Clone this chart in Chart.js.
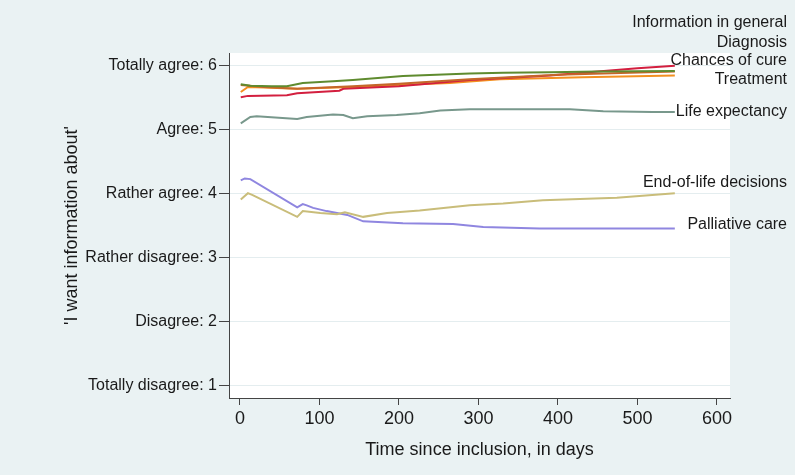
<!DOCTYPE html>
<html>
<head>
<meta charset="utf-8">
<script src="https://cdn.jsdelivr.net/npm/chart.js@4.4.1/dist/chart.umd.min.js"></script>
<style>
  html, body { margin: 0; padding: 0; background: #eaf2f3; }
  #wrap { width: 795px; height: 475px; }
</style>
</head>
<body>
<div id="wrap"><canvas id="infoChart" width="795" height="475"></canvas></div>
<script>
// series (days since inclusion -> mean score)
const seriesNames = ['Information in general', 'Diagnosis', 'Chances of cure', 'Treatment',
                     'Life expectancy', 'End-of-life decisions', 'Palliative care'];

const infoDays = [1, 13, 40, 59, 79, 117, 142, 205, 289, 331, 390, 450, 547];
const infoVals = [5.70, 5.68, 5.67, 5.67, 5.72, 5.75, 5.77, 5.83, 5.87, 5.88, 5.89, 5.90, 5.91];

const diagDays = [1, 30, 72, 142, 200, 264, 289, 400, 547];
const diagVals = [5.69, 5.66, 5.63, 5.67, 5.71, 5.76, 5.78, 5.85, 5.90];

const cureDays = [1, 10, 59, 72, 125, 130, 200, 264, 289, 390, 450, 500, 547];
const cureVals = [5.50, 5.52, 5.53, 5.56, 5.60, 5.63, 5.67, 5.74, 5.77, 5.84, 5.90, 5.95, 5.99];

const treatDays = [1, 10, 30, 72, 142, 200, 264, 327, 431, 547];
const treatVals = [5.58, 5.66, 5.65, 5.63, 5.66, 5.69, 5.72, 5.78, 5.81, 5.84];

const lifeDays = [1, 13, 21, 72, 84, 117, 130, 142, 160, 197, 226, 252, 289, 415, 457, 519, 547];
const lifeVals = [5.09, 5.19, 5.20, 5.16, 5.19, 5.23, 5.22, 5.17, 5.20, 5.22, 5.25, 5.29, 5.31, 5.31, 5.28, 5.27, 5.27];

const eolDays = [1, 10, 16, 72, 79, 101, 122, 132, 155, 185, 226, 289, 331, 381, 474, 547];
const eolVals = [3.90, 4.00, 3.97, 3.63, 3.72, 3.69, 3.67, 3.70, 3.63, 3.69, 3.73, 3.81, 3.84, 3.89, 3.93, 4.00];

const palDays = [1, 6, 13, 72, 79, 84, 92, 109, 135, 155, 205, 268, 306, 377, 547];
const palVals = [4.20, 4.23, 4.22, 3.78, 3.83, 3.81, 3.77, 3.72, 3.66, 3.56, 3.53, 3.52, 3.47, 3.45, 3.45];

const xTicks = [0, 100, 200, 300, 400, 500, 600];
const yTicks = [1, 2, 3, 4, 5, 6];
const yTickLabels = ['Totally disagree: 1', 'Disagree: 2', 'Rather disagree: 3',
                     'Rather agree: 4', 'Agree: 5', 'Totally agree: 6'];

const colors = ['#5f8b2f', '#c4662a', '#d31f3f', '#f39020', '#78988c', '#c9bd7a', '#8f86e0'];
// vertical nudge of the end labels (px), so the top cluster does not overlap
const labelShift = [-48, -29, -5, 4, 0, -11, -4];

const pairs = (d, v) => d.map((x, i) => ({ x: x, y: v[i] }));
const allSeries = [
  pairs(infoDays, infoVals), pairs(diagDays, diagVals), pairs(cureDays, cureVals),
  pairs(treatDays, treatVals), pairs(lifeDays, lifeVals), pairs(eolDays, eolVals),
  pairs(palDays, palVals)
];

const FONT = "'Liberation Sans', Arial, sans-serif";

const backdrop = {
  id: 'backdrop',
  beforeDraw(chart) {
    const { ctx, chartArea: a } = chart;
    ctx.save();
    ctx.fillStyle = '#eaf2f3';
    ctx.fillRect(0, 0, chart.width, chart.height);
    ctx.fillStyle = '#ffffff';
    ctx.fillRect(a.left, a.top, a.right - a.left, a.bottom - a.top);
    ctx.restore();
  }
};

const endLabels = {
  id: 'endLabels',
  afterDatasetsDraw(chart) {
    const ctx = chart.ctx;
    ctx.save();
    ctx.font = '16px ' + FONT;
    ctx.fillStyle = '#1a1a1a';
    ctx.textAlign = 'right';
    ctx.textBaseline = 'middle';
    chart.data.datasets.forEach((ds, i) => {
      const pts = chart.getDatasetMeta(i).data;
      const last = pts[pts.length - 1];
      ctx.fillText(ds.label, chart.width - 8, last.y + labelShift[i]);
    });
    ctx.restore();
  }
};

const ctx = document.getElementById('infoChart').getContext('2d');
const infoChart = new Chart(ctx, {
  type: 'line',
  data: {
    datasets: allSeries.map((pts, i) => ({
      label: seriesNames[i],
      data: pts,
      borderColor: colors[i],
      borderWidth: 2,
      pointRadius: 0,
      tension: 0,
      fill: false
    }))
  },
  options: {
    responsive: false,
    animation: false,
    layout: { padding: { top: 53, right: 65, left: 0, bottom: 0 } },
    plugins: { legend: { display: false }, tooltip: { enabled: false } },
    scales: {
      x: {
        type: 'linear',
        min: -13.8,
        max: 616.4,
        afterBuildTicks: s => { s.ticks = xTicks.map(v => ({ value: v })); },
        afterFit: s => { s.height = 77; },
        border: { color: '#444', width: 1 },
        grid: { drawOnChartArea: false, tickLength: 7, tickColor: '#444' },
        ticks: { color: '#1a1a1a', font: { family: FONT, size: 18 }, padding: 3, maxRotation: 0 },
        title: { display: true, text: 'Time since inclusion, in days', color: '#1a1a1a',
                 font: { family: FONT, size: 18 }, padding: { top: 0, bottom: 14 } }
      },
      y: {
        min: 0.8,
        max: 6.19,
        afterBuildTicks: s => { s.ticks = yTicks.map(v => ({ value: v })); },
        afterFit: s => { s.width = 229; },
        border: { color: '#444', width: 1 },
        grid: { color: '#e4edef', lineWidth: 1, tickLength: 10, tickColor: '#444' },
        ticks: {
          color: '#1a1a1a', font: { family: FONT, size: 16 }, padding: 2,
          callback: v => yTickLabels[yTicks.indexOf(v)]
        },
        title: { display: true, text: "'I want information about'", color: '#1a1a1a',
                 font: { family: FONT, size: 18 }, padding: { top: 61, bottom: 0 } }
      }
    }
  },
  plugins: [backdrop, endLabels]
});
</script>
</body>
</html>
